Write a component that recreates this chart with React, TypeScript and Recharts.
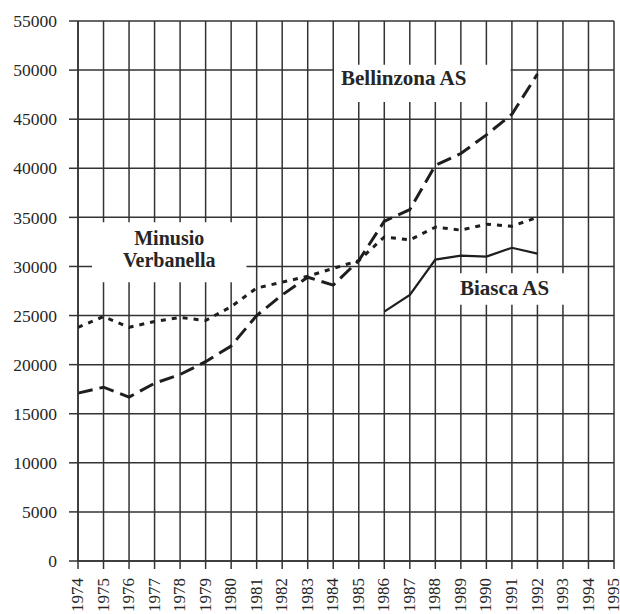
import {
  LineChart,
  Line,
  XAxis,
  YAxis,
  CartesianGrid,
  ReferenceArea,
} from "recharts";

const years = [
  1974, 1975, 1976, 1977, 1978, 1979, 1980, 1981, 1982, 1983,
  1984, 1985, 1986, 1987, 1988, 1989, 1990, 1991, 1992,
];
const bellinzona = [
  17100, 17700, 16700, 18100, 19000, 20300, 21900, 25000, 27100, 28900,
  28100, 30600, 34600, 35800, 40300, 41500, 43400, 45500, 49600,
];
const minusio = [
  23800, 24900, 23800, 24400, 24800, 24500, 25900, 27800, 28400, 29000,
  29800, 30600, 33000, 32700, 34000, 33700, 34300, 34100, 35000,
];
// Biasca starts in 1986
const biascaStart = 1986;
const biasca = [25400, 27100, 30700, 31100, 31000, 31900, 31300];

const xTicks = [
  1974, 1975, 1976, 1977, 1978, 1979, 1980, 1981, 1982, 1983, 1984,
  1985, 1986, 1987, 1988, 1989, 1990, 1991, 1992, 1993, 1994, 1995,
];
const yTicks = [0, 5000, 10000, 15000, 20000, 25000, 30000, 35000, 40000, 45000, 50000, 55000];

const data = years.map((year, i) => ({
  year,
  bellinzona: bellinzona[i],
  minusio: minusio[i],
  biasca: year >= biascaStart ? biasca[year - biascaStart] : null,
}));

const FONT = "Liberation Serif, serif";
const INK = "#262626";
const GRID = "#333";

const YearTick = ({ x, y, payload }: any) => (
  <text
    x={x}
    y={y}
    transform={`rotate(-90 ${x} ${y})`}
    textAnchor="end"
    dy="0.3em"
    style={{ fontFamily: FONT }}
    fontSize={17}
    fill={INK}
  >
    {payload.value}
  </text>
);

// white boxes with series names, text offset from the box corner
const boxLabel =
  (lines: string[], dx: number, dy: number, anchor: "start" | "middle", size = 21) =>
  (props: any) => {
    const vb = props.viewBox || {};
    const x = anchor === "middle" ? vb.x + vb.width / 2 : vb.x + dx;
    return (
      <g>
        {lines.map((t, i) => (
          <text
            key={t}
            x={x}
            y={vb.y + dy + i * 22}
            textAnchor={anchor}
            style={{ fontFamily: FONT }}
            fontSize={size}
            fontWeight="bold"
            fill={INK}
          >
            {t}
          </text>
        ))}
      </g>
    );
  };

export default function App() {
  return (
    <div style={{ position: "absolute", left: 0, top: 0, background: "#fff" }}>
      <LineChart
        width={620}
        height={614}
        data={data}
        margin={{ top: 21, right: 6, bottom: 0, left: 0 }}
      >
        <CartesianGrid
          stroke={GRID}
          strokeWidth={1.5}
          verticalValues={xTicks}
          horizontalValues={yTicks}
        />
        <XAxis
          dataKey="year"
          type="number"
          domain={[1974, 1995]}
          ticks={xTicks}
          interval={0}
          height={53}
          tickSize={8}
          tickMargin={9}
          tick={<YearTick />}
          axisLine={{ stroke: GRID, strokeWidth: 1.5 }}
          tickLine={{ stroke: GRID, strokeWidth: 1.5 }}
        />
        <YAxis
          type="number"
          domain={[0, 55000]}
          ticks={yTicks}
          interval={0}
          width={78}
          tickSize={9}
          tickMargin={12}
          tick={{ style: { fontFamily: FONT }, fontSize: 17.5, fill: INK }}
          axisLine={{ stroke: GRID, strokeWidth: 1.5 }}
          tickLine={{ stroke: GRID, strokeWidth: 1.5 }}
        />
        <ReferenceArea
          x1={1984.03}
          x2={1990.95}
          y1={46750}
          y2={50550}
          fill="#fff"
          fillOpacity={1}
          stroke="none"
          label={boxLabel(["Bellinzona AS"], 7, 20, "start")}
        />
        <ReferenceArea
          x1={1974.55}
          x2={1980.6}
          y1={28400}
          y2={34500}
          fill="#fff"
          fillOpacity={1}
          stroke="none"
          label={boxLabel(["Minusio", "Verbanella"], 0, 23, "middle", 20)}
        />
        <ReferenceArea
          x1={1988.1}
          x2={1993.9}
          y1={26100}
          y2={29300}
          fill="#fff"
          fillOpacity={1}
          stroke="none"
          label={boxLabel(["Biasca AS"], 22, 22, "start")}
        />
        <Line
          dataKey="bellinzona"
          stroke="#1e1e1e"
          strokeWidth={3}
          strokeDasharray="15 7"
          dot={false}
          isAnimationActive={false}
        />
        <Line
          dataKey="minusio"
          stroke="#1e1e1e"
          strokeWidth={3}
          strokeDasharray="5 6"
          dot={false}
          isAnimationActive={false}
        />
        <Line
          dataKey="biasca"
          stroke="#1e1e1e"
          strokeWidth={2.2}
          dot={false}
          isAnimationActive={false}
        />
      </LineChart>
    </div>
  );
}
